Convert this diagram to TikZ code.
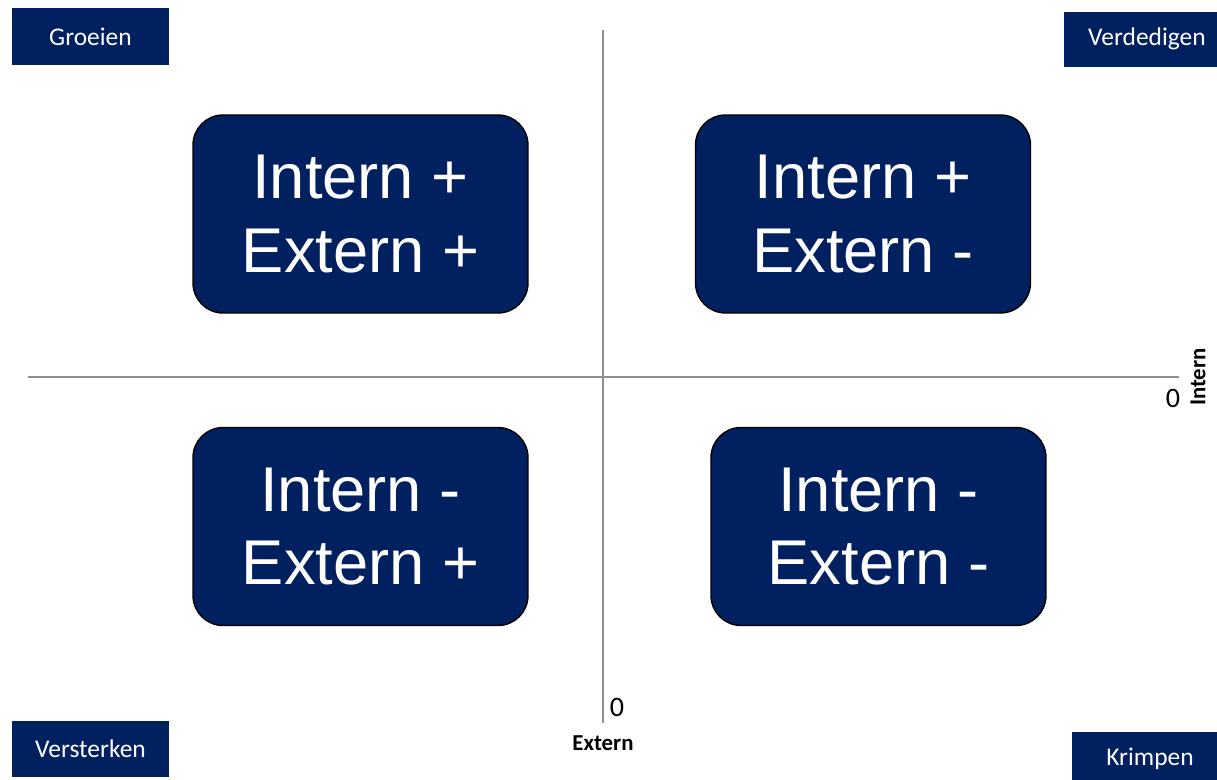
\documentclass[tikz,border=0pt]{standalone}
\usepackage{fontspec}
\setmainfont{Liberation Sans}
\newfontfamily\calibri{Carlito}
\usepackage{xcolor}
\usepackage{tikz}
\usetikzlibrary{positioning}
\definecolor{navy}{HTML}{002060}
\definecolor{axisgray}{HTML}{8F8F8F}

\begin{document}
\begin{tikzpicture}[
  x=0.02cm, y=-0.02cm,
  quadrant/.style={rectangle, rounded corners=0.6cm, draw=black, line width=0.8pt, fill=navy, text=white,
    minimum width=6.7cm, minimum height=3.96cm, align=center, font=\fontsize{36}{44}\selectfont},
  corner/.style={rectangle, fill=navy, text=white, inner sep=0pt, font=\calibri\fontsize{14.5}{17}\selectfont},
  axislabel/.style={font=\calibri\bfseries\fontsize{13}{15}\selectfont, inner sep=0pt},
  zerolabel/.style={font=\calibri\fontsize{16}{18}\selectfont, inner sep=0pt}
]
\useasboundingbox (0,0) rectangle (1217,779);

% Axes
\coordinate (hleft) at (28,377);
\coordinate (hright) at (1179,377);
\coordinate (vtop) at (603,30);
\coordinate (vbottom) at (603,723);
\draw[axisgray, line width=1.1pt] (hleft) -- (hright);
\draw[axisgray, line width=1.1pt] (vtop) -- (vbottom);

% Quadrants
\node[quadrant] (plusplus) at (360.5,214) {\raisebox{-2pt}{Intern +}\\Extern +};
\node[quadrant] (plusmin) at (863,214) {\raisebox{-2pt}{Intern +}\\Extern -};
\node[quadrant] (minplus) at (360.5,526.5) {\raisebox{-2pt}{Intern -}\\Extern +};
\node[quadrant] (minmin) at (878.5,526.5) {\raisebox{-2pt}{Intern -}\\Extern -};

% Corner labels
\node[corner, minimum width=3.14cm, minimum height=1.14cm] (groeien) at (90.5,36.5) {Groeien};
\node[corner, minimum width=3.32cm, minimum height=1.1cm] (verdedigen) at (1147,39) {Verdedigen};
\node[corner, minimum width=3.14cm, minimum height=1.12cm] (versterken) at (90.5,749) {Versterken};
\node[corner, minimum width=3.12cm, minimum height=1.1cm] (krimpen) at (1150,759) {Krimpen};

% Axis labels
\node[axislabel] (externlabel) at (603,743) {Extern};
\node[axislabel, rotate=90] (internlabel) at (1198,377) {Intern};
\node[zerolabel] (zeroextern) at (617,707) {0};
\node[zerolabel] (zerointern) at (1173,398) {0};

\end{tikzpicture}
\end{document}
